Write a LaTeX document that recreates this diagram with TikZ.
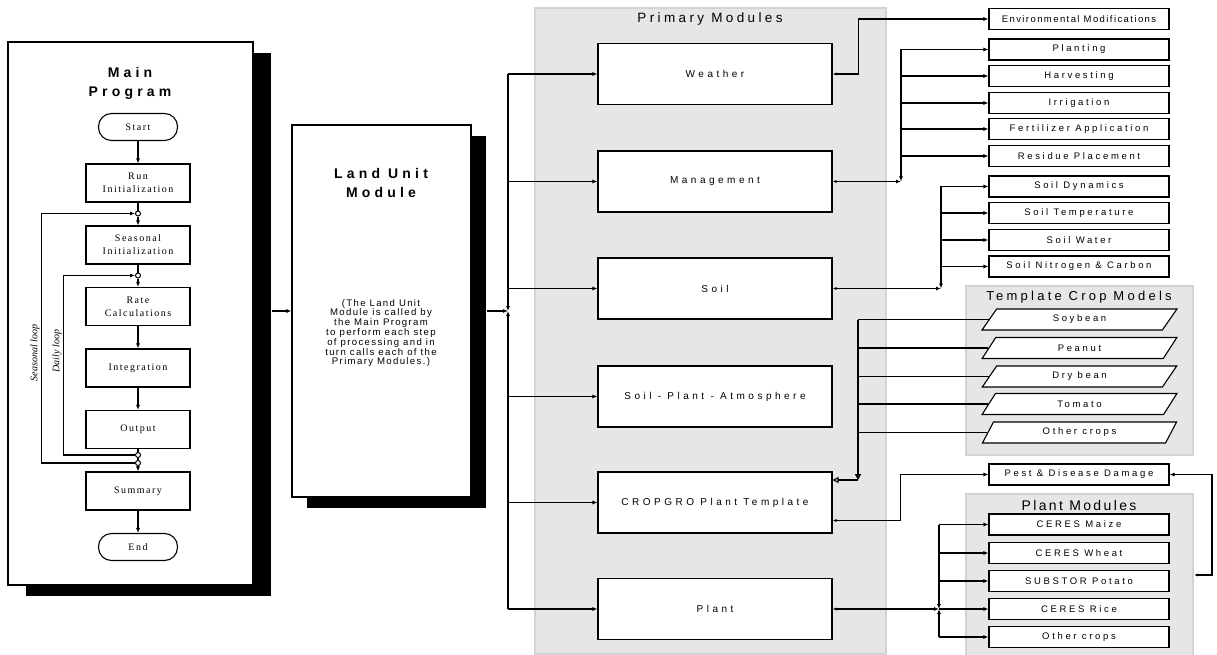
\documentclass[tikz,border=0pt]{standalone}
\usepackage{fontspec}
\setmainfont{Liberation Serif}
\setsansfont{Liberation Sans}
\newfontfamily\flowfont[LetterSpace=15]{Liberation Serif}
\newfontfamily\titlefont[LetterSpace=30]{Liberation Sans}
\newfontfamily\notefont[LetterSpace=14]{Liberation Sans}
\newfontfamily\modfont[LetterSpace=35]{Liberation Sans}
\newfontfamily\boxfont[LetterSpace=28]{Liberation Sans}
\newfontfamily\envfont[LetterSpace=15]{Liberation Sans}
\newfontfamily\panelfont[LetterSpace=25]{Liberation Sans}
\usetikzlibrary{arrows.meta,shapes.geometric,calc}

\definecolor{panelfill}{HTML}{E6E6E6}
\definecolor{paneledge}{HTML}{D3D3D3}

\begin{document}
\begin{tikzpicture}[
        x=1pt, y=-1pt,
        line width=1.1pt,
        >={Latex[length=5pt,width=4pt]},
        arr/.style={->},
        twoway/.style={arrows={Latex[length=4pt,width=3pt]-Latex[length=5pt,width=4pt]}},
        openarr/.style={-{Triangle[open,length=6pt,width=6pt]}},
        flowbox/.style={draw, fill=white, minimum width=104pt, minimum height=38pt, inner sep=1pt, align=center, font=\flowfont\fontsize{10}{13}\selectfont},
        terminal/.style={flowbox, rounded corners=13pt, minimum width=79pt, minimum height=27pt},
        junc/.style={circle, draw, fill=white, inner sep=0pt, minimum size=5pt, line width=1pt},
        shadowbox/.style={fill=black, inner sep=0pt},
        bigbox/.style={draw, fill=white, inner sep=0pt},
        titletext/.style={align=center, font=\titlefont\fontsize{14}{19}\selectfont\bfseries},
        panel/.style={draw=paneledge, fill=panelfill, line width=2pt, inner sep=0pt},
        panelttl/.style={font=\panelfont\fontsize{13}{15}\selectfont},
        module/.style={draw, fill=white, minimum width=234pt, minimum height=61pt, font=\modfont\fontsize{10}{12}\selectfont},
        subbox/.style={draw, fill=white, minimum width=180pt, minimum height=21pt, inner sep=0pt, font=\boxfont\fontsize{9.5}{11}\selectfont},
        cropbox/.style={subbox, trapezium, trapezium left angle=62, trapezium right angle=118, trapezium stretches=true, minimum width=195pt},
        looplbl/.style={rotate=90, font=\itshape\fontsize{10}{12}\selectfont, inner sep=1pt}
    ]
        \useasboundingbox (0,0) rectangle (1217,655);

        % Main program frame
        \node[shadowbox, minimum width=245pt, minimum height=543pt] (mpshadow) at (148.5,324.5) {};
        \node[bigbox, minimum width=245pt, minimum height=543pt] (mainprog) at (130.5,313.5) {};
        \node[titletext] (mptitle) at (130,83) {Main\\Program};

        % Flowchart steps
        \node[terminal] (start) at (138,127) {Start};
        \node[flowbox] (runinit) at (138,183) {Run\\Initialization};
        \node[flowbox] (seasinit) at (138,245) {Seasonal\\Initialization};
        \node[flowbox] (rate) at (138,306.5) {Rate\\Calculations};
        \node[flowbox] (integ) at (138,368) {Integration};
        \node[flowbox] (output) at (138,429.5) {Output};
        \node[flowbox] (summary) at (138,491) {Summary};
        \node[terminal] (finish) at (138,547) {End};

        \node[junc] (c1) at (138,213.5) {};
        \node[junc] (c2) at (138,275.5) {};
        \node[junc] (c3) at (138,455) {};
        \node[junc] (c4) at (138,463) {};

        \draw[arr] (start) -- (runinit);
        \draw (runinit) -- (c1);
        \draw[arr] (c1) -- (seasinit);
        \draw (seasinit) -- (c2);
        \draw[arr] (c2) -- (rate);
        \draw[arr] (rate) -- (integ);
        \draw[arr] (integ) -- (output);
        \draw (output) -- (c3);
        \draw (c3) -- (c4);
        \draw[arr] (c4) -- (summary);
        \draw[arr] (summary) -- (finish);

        % Loops
        \draw[arr] (c4.west) -- ++(-93.5,0) |- (c1.west);
        \draw[arr] (c3.west) -- ++(-71.5,0) |- (c2.west);
        \node[looplbl, anchor=south] (seaslbl) at (41,353) {Seasonal loop};
        \node[looplbl, anchor=south] (dailylbl) at (63,351) {Daily loop};

        % Land unit module
        \node[shadowbox, minimum width=179pt, minimum height=372pt] (lushadow) at (396.5,322) {};
        \node[bigbox, minimum width=179pt, minimum height=372pt] (land) at (381.5,311) {};
        \node[titletext] (lutitle) at (381,183) {Land Unit\\Module};
        \node[align=center, font=\notefont\fontsize{9.6}{9.8}\selectfont] (lunote) at (381,333)
            {(The Land Unit\\Module is called by\\the Main Program\\to perform each step\\of processing and in\\turn calls each of the\\Primary Modules.)};

        \draw[arr] (land.west -| mpshadow.east) -- (land.west);

        % Panels
        \node[panel, minimum width=351pt, minimum height=646pt] (primpanel) at (710.5,331) {};
        \node[panelttl, font=\panelfont\fontsize{13.5}{15}\selectfont] (primttl) at (710,19) {Primary Modules};
        \node[panel, minimum width=227pt, minimum height=169pt] (tcmpanel) at (1079.5,370.5) {};
        \node[panelttl] (tcmttl) at (1079,297) {Template Crop Models};
        \node[panel, minimum width=227pt, minimum height=163pt] (pmpanel) at (1079.5,575) {};
        \node[panelttl, font=\panelfont\addfontfeature{LetterSpace=17}\fontsize{14}{15}\selectfont] (pmttl) at (1079,505) {Plant Modules};

        % Primary modules
        \node[module] (weather) at (715,74) {Weather};
        \node[module] (mgmt) at (715,181.5) {Management};
        \node[module] (soil) at (715,288.5) {Soil};
        \node[module] (spa) at (715,396.5) {Soil - Plant - Atmosphere};
        \node[module] (cropgro) at (715,502.5) {CROPGRO Plant Template};
        \node[module] (plant) at (715,609) {Plant};

        % Land unit calls
        \coordinate (lujn) at (508,311);
        \draw[arr] (lujn -| lushadow.east) -- (lujn);
        \draw[arr] (weather.west -| lujn) -- (lujn);
        \draw[arr] (plant.west -| lujn) -- (lujn);
        \draw[arr] (weather.west -| lujn) -- (weather.west);
        \draw[arr] (mgmt.west -| lujn) -- (mgmt.west);
        \draw[arr] (soil.west -| lujn) -- (soil.west);
        \draw[arr] (spa.west -| lujn) -- (spa.west);
        \draw[arr] (cropgro.west -| lujn) -- (cropgro.west);
        \draw[arr] (plant.west -| lujn) -- (plant.west);

        % Weather and management
        \node[subbox, font=\envfont\fontsize{9.5}{11}\selectfont] (envmod) at (1079,19) {Environmental Modifications};
        \node[subbox] (planting) at (1079,49.5) {Planting};
        \node[subbox] (harvest) at (1079,76) {Harvesting};
        \node[subbox] (irrig) at (1079,103) {Irrigation};
        \node[subbox] (fert) at (1079,129) {Fertilizer Application};
        \node[subbox] (residue) at (1079,156) {Residue Placement};

        \draw[twoway] (weather.east) -- ++(26,0) |- (envmod.west);

        \coordinate (mgtjn) at (901,181.5);
        \draw[twoway] (mgmt.east) -- (mgtjn);
        \draw[arr] (mgtjn |- planting.west) -- (mgtjn);
        \draw[arr] (mgtjn |- planting.west) -- (planting.west);
        \draw[arr] (mgtjn |- harvest.west) -- (harvest.west);
        \draw[arr, line width=1.8pt] (mgtjn |- irrig.west) -- (irrig.west);
        \draw[arr] (mgtjn |- fert.west) -- (fert.west);
        \draw[arr] (mgtjn |- residue.west) -- (residue.west);

        % Soil
        \node[subbox] (soildyn) at (1079,186.5) {Soil Dynamics};
        \node[subbox] (soiltemp) at (1079,213) {Soil Temperature};
        \node[subbox] (soilwat) at (1079,240) {Soil Water};
        \node[subbox] (soilnc) at (1079,266.5) {Soil Nitrogen \& Carbon};

        \coordinate (soiljn) at (941,288.5);
        \draw[twoway] (soil.east) -- (soiljn);
        \draw[arr] (soiljn |- soildyn.west) -- (soiljn);
        \draw[arr] (soiljn |- soildyn.west) -- (soildyn.west);
        \draw[arr, line width=1.6pt] (soiljn |- soiltemp.west) -- (soiltemp.west);
        \draw[arr] (soiljn |- soilwat.west) -- (soilwat.west);
        \draw[arr, line width=1.6pt] (soiljn |- soilnc.west) -- (soilnc.west);

        % Template crop models
        \node[cropbox] (soybean) at (1079.5,319.5) {Soybean};
        \node[cropbox] (peanut) at (1079.5,348) {Peanut};
        \node[cropbox] (drybean) at (1079.5,376.5) {Dry bean};
        \node[cropbox] (tomato) at (1079.5,404) {Tomato};
        \node[cropbox] (othertcm) at (1079.5,432.5) {Other crops};

        \coordinate (cropjn) at (858,480);
        \draw[openarr, line width=1.8pt] (cropjn |- soybean.west) -- (cropjn);
        \draw[openarr] (cropjn) -- (cropjn -| cropgro.east);
        \draw[line width=1.8pt] (cropjn |- soybean.west) -- (soybean.west);
        \draw (cropjn |- peanut.west) -- (peanut.west);
        \draw (cropjn |- drybean.west) -- (drybean.west);
        \draw (cropjn |- tomato.west) -- (tomato.west);
        \draw (cropjn |- othertcm.west) -- (othertcm.west);

        % Pest and disease
        \node[subbox] (pest) at (1079,474.5) {Pest \& Disease Damage};
        \draw[twoway] ($(cropgro.east)+(0,18)$) -- ++(68,0) |- (pest.west);
        \draw[twoway] (pmpanel.east) -- ++(18,0) |- (pest.east);

        % Plant modules
        \node[subbox] (maize) at (1079,524.5) {CERES Maize};
        \node[subbox] (wheat) at (1079,553) {CERES Wheat};
        \node[subbox] (potato) at (1079,581) {SUBSTOR Potato};
        \node[subbox] (rice) at (1079,609) {CERES Rice};
        \node[subbox] (otherpm) at (1079,637) {Other crops};

        \coordinate (plantjn) at (939,609);
        \draw[twoway] (plant.east) -- (plantjn);
        \draw[arr] (plantjn |- maize.west) -- (plantjn);
        \draw[arr] (plantjn |- otherpm.west) -- (plantjn);
        \draw[arr] (plantjn |- maize.west) -- (maize.west);
        \draw[arr] (plantjn |- wheat.west) -- (wheat.west);
        \draw[arr] (plantjn |- potato.west) -- (potato.west);
        \draw[arr, line width=1.8pt] (plantjn) -- (rice.west);
        \draw[arr] (plantjn |- otherpm.west) -- (otherpm.west);
    \end{tikzpicture}
\end{document}
